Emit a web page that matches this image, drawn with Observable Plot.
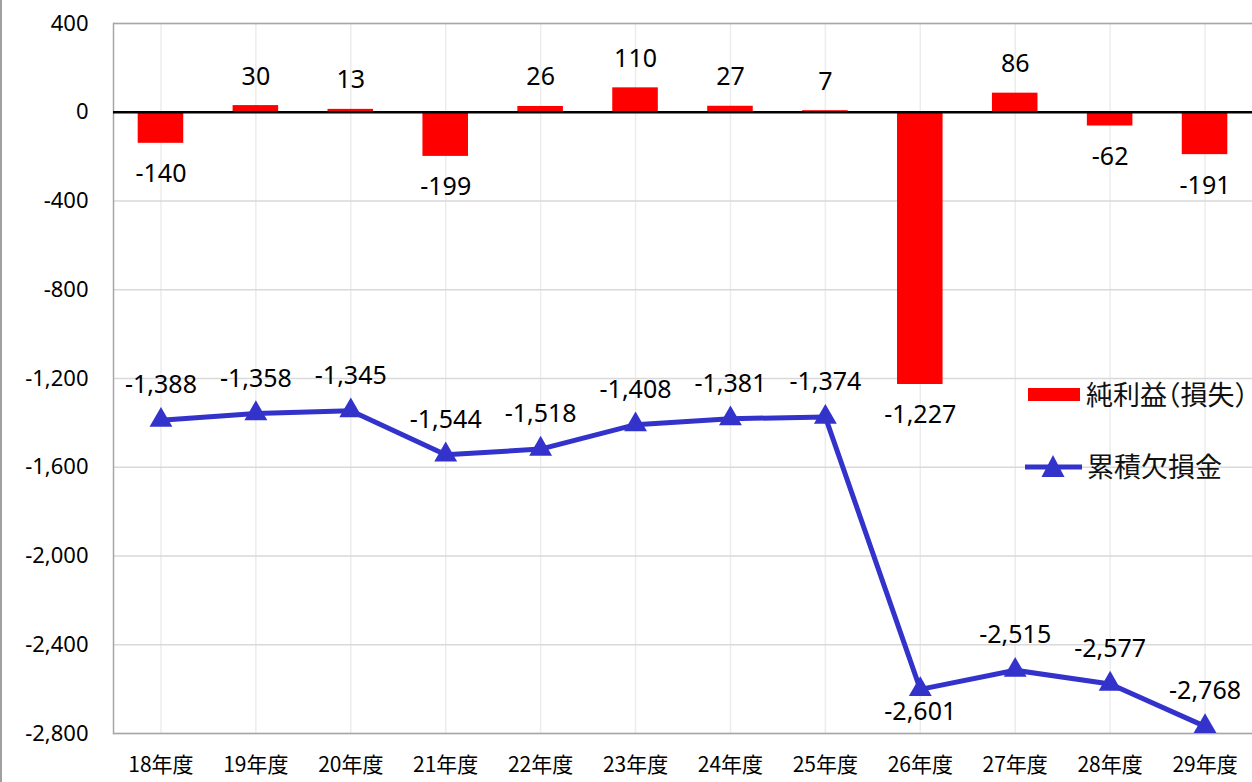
<!DOCTYPE html>
<html>
<head>
<meta charset="utf-8">
<script src="https://cdn.jsdelivr.net/npm/d3@7"></script>
<script src="https://cdn.jsdelivr.net/npm/@observablehq/plot@0.6"></script>
<style>
  html, body { margin: 0; padding: 0; background: #fff; }
  #wrap { position: relative; width: 1252px; height: 782px; overflow: hidden; }
  #edge { position: absolute; left: 0; top: 0; width: 2px; height: 782px; background: #a0a0a0; }
  .leg { position: absolute; font-family: "Noto Sans CJK JP", sans-serif; font-size: 27px; color: #111; line-height: 1; white-space: nowrap; }
  .hw { font-feature-settings: "halt" 1; }
</style>
</head>
<body>
<div id="wrap">
  <div id="chart"></div>
  <div id="edge"></div>
  <div style="position:absolute;left:1028px;top:388px;width:52px;height:13px;background:#ff0000"></div>
  <div class="leg" id="leg1" style="left:1086px;top:380px">純利益<span class="hw">（</span>損失<span class="hw">）</span></div>
  <svg style="position:absolute;left:1020px;top:450px" width="70" height="32">
    <line x1="5" x2="62" y1="17" y2="17" stroke="#3333cc" stroke-width="5"></line>
    <path d="M33,5 L44.5,27 L21.5,27 Z" fill="#3333cc"></path>
  </svg>
  <div class="leg" id="leg2" style="left:1087px;top:452px">累積欠損金</div>
</div>
<script>
const years = ["18年度","19年度","20年度","21年度","22年度","23年度","24年度","25年度","26年度","27年度","28年度","29年度"];
const netIncome = [-140, 30, 13, -199, 26, 110, 27, 7, -1227, 86, -62, -191];
const accumulated = [-1388, -1358, -1345, -1544, -1518, -1408, -1381, -1374, -2601, -2515, -2577, -2768];
const yTicks = [400, 0, -400, -800, -1200, -1600, -2000, -2400, -2800];
const belowLabelYears = ["26年度"];

const fmt = d => d.toLocaleString("en-US");
const bars = years.map((y, i) => ({year: y, value: netIncome[i]}));
const pts = years.map((y, i) => ({year: y, value: accumulated[i]}));
const labelFont = "Noto Sans, Open Sans, sans-serif";

const chart = Plot.plot({
  width: 1252,
  height: 782,
  marginLeft: 113,
  marginRight: 0,
  marginTop: 23,
  marginBottom: 49,
  style: {fontFamily: labelFont, color: "#000", background: "#fff"},
  x: {domain: years, paddingInner: 0.52, paddingOuter: 0.26, round: false, label: null},
  y: {domain: [-2800, 400], label: null},
  marks: [
    Plot.gridX(years, {stroke: "#ececec", strokeOpacity: 1, strokeWidth: 1.5}),
    Plot.gridY(yTicks, {stroke: "#d9d9d9", strokeOpacity: 1, strokeWidth: 1.5}),
    Plot.axisY(yTicks, {tickSize: 0, tickPadding: 25, tickFormat: fmt, fontSize: 22, fill: "#000", label: null}),
    Plot.axisX(years, {tickSize: 0, tickPadding: 24, fontSize: 21, fontFamily: "Noto Sans CJK JP, sans-serif", fill: "#000", label: null}),
    Plot.ruleY([400, -2800], {stroke: "#a6a6a6", strokeWidth: 1.5}),
    Plot.frame({anchor: "left", stroke: "#a6a6a6", strokeWidth: 1.5}),
    Plot.barY(bars, {x: "year", y: "value", fill: "#ff0000"}),
    Plot.ruleY([0], {stroke: "#000", strokeWidth: 2.5}),
    Plot.line(pts, {x: "year", y: "value", stroke: "#3333cc", strokeWidth: 5}),
    Plot.dot(pts, {x: "year", y: "value", symbol: "triangle", r: 8.5, fill: "#3333cc", stroke: null}),
    Plot.text(bars.filter(d => d.value >= 0), {x: "year", y: "value", text: d => fmt(d.value), dy: -29, fontSize: 25, fill: "#000"}),
    Plot.text(bars.filter(d => d.value < 0), {x: "year", y: "value", text: d => fmt(d.value), dy: 31, fontSize: 25, fill: "#000"}),
    Plot.text(pts.filter(d => !belowLabelYears.includes(d.year)), {x: "year", y: "value", text: d => fmt(d.value), dy: -35, fontSize: 25, fill: "#000"}),
    Plot.text(pts.filter(d => belowLabelYears.includes(d.year)), {x: "year", y: "value", text: d => fmt(d.value), dy: 23, fontSize: 25, fill: "#000"})
  ]
});
document.getElementById("chart").appendChild(chart);
</script>
</body>
</html>
